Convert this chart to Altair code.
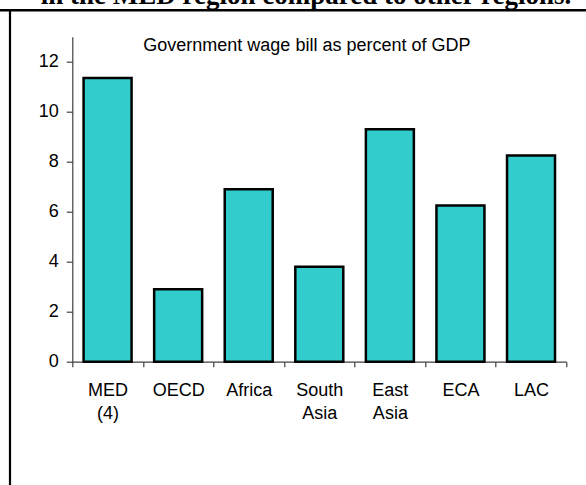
import altair as alt
import pandas as pd

regions = ["MED (4)", "OECD", "Africa", "South Asia", "East Asia", "ECA", "LAC"]
wage_bill = [11.35, 2.9, 6.9, 3.8, 9.3, 6.25, 8.25]
y_ticks = [0, 2, 4, 6, 8, 10, 12]
chart_title = "Government wage bill as percent of GDP"
doc_heading = "in the MED region compared to other regions."

df = pd.DataFrame({"region": regions, "wage": wage_bill})

W, H = 494, 325
AXIS_COLOR = "#404040"

bars = alt.Chart(df).mark_bar(
    color="#33CCCC", stroke="#000000", strokeWidth=2.5,
    width=alt.RelativeBandSize(0.68)
).encode(
    x=alt.X("region:N", sort=regions,
            scale=alt.Scale(paddingInner=0, paddingOuter=0),
            axis=alt.Axis(title=None, labelAngle=0, tickBand="extent",
                          labelExpr="split(datum.label, ' ')",
                          labelFont="Liberation Sans", labelFontSize=18,
                          labelColor="#000000", labelPadding=15,
                          labelLineHeight=23, tickSize=5,
                          domainColor=AXIS_COLOR, tickColor=AXIS_COLOR,
                          domainWidth=1.2, tickWidth=1.2, grid=False)),
    y=alt.Y("wage:Q", scale=alt.Scale(domain=[0, 13], nice=False),
            axis=alt.Axis(title=None, values=y_ticks, grid=False,
                          labelFont="Liberation Sans", labelFontSize=18,
                          labelColor="#000000", labelPadding=8, tickSize=6,
                          domainColor=AXIS_COLOR, tickColor=AXIS_COLOR,
                          domainWidth=1.2, tickWidth=1.2))
)

one = alt.Data(values=[{}])

title_text = alt.Chart(one).mark_text(
    align="left", baseline="alphabetic", font="Liberation Sans",
    fontSize=18, color="#000000"
).encode(x=alt.value(71), y=alt.value(14.3), text=alt.value(chart_title))

heading_text = alt.Chart(one).mark_text(
    align="left", baseline="alphabetic", font="Liberation Serif",
    fontWeight="bold", fontSize=27, color="#000000"
).encode(x=alt.value(-31.6), y=alt.value(-33.2), text=alt.value(doc_heading))

hline = alt.Chart(one).mark_rule(color="#000000", strokeWidth=2.5).encode(
    x=alt.value(-72.3), x2=alt.value(513.7), y=alt.value(-26.4))
vline = alt.Chart(one).mark_rule(color="#000000", strokeWidth=2.2).encode(
    x=alt.value(-62.3), y=alt.value(-27.6), y2=alt.value(448.3))

chart = alt.layer(bars, title_text, heading_text, hline, vline).properties(
    width=W, height=H,
    autosize=alt.AutoSizeParams(type="none"),
    padding={"left": 72.3, "top": 36.7, "right": 586 - 72.3 - W, "bottom": 485 - 36.7 - H},
    background="#ffffff"
).configure_view(stroke=None)

chart.save("out.html", embed_options={"renderer": "svg", "actions": False})
